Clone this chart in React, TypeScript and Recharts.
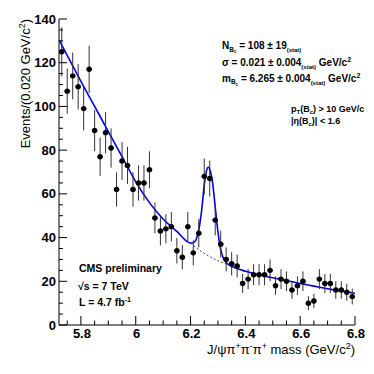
import React from 'react';
import { ComposedChart, XAxis, YAxis, Scatter, Line, ErrorBar } from 'recharts';

// Bin centres (GeV/c^2), bin width 0.020
const binCenters = [
  5.73, 5.75, 5.77, 5.79, 5.81, 5.83, 5.85, 5.87, 5.89, 5.91,
  5.93, 5.95, 5.97, 5.99, 6.01, 6.03, 6.05, 6.07, 6.09, 6.11,
  6.13, 6.15, 6.17, 6.19, 6.21, 6.23, 6.25, 6.27, 6.29, 6.31,
  6.33, 6.35, 6.37, 6.39, 6.41, 6.43, 6.45, 6.47, 6.49, 6.51,
  6.53, 6.55, 6.57, 6.59, 6.61, 6.63, 6.65, 6.67, 6.69, 6.71,
  6.73, 6.75, 6.77, 6.79,
];
// Events per bin
const counts = [
  125, 107, 114, 109, 99, 117, 89, 77, 88, 81,
  62, 75, 73, 62, 65, 65, 71, 49, 43, 44,
  45, 34, 31, 45, 33, 42, 68, 67, 48, 37,
  30, 28, 27, 19, 21, 23, 23, 23, 25, 18,
  21, 20, 16, 18, 20, 10, 11, 21, 19, 19,
  16, 16, 15, 13,
];
const halfBin = 0.01;

// Total fit curve
const fitMass = [
  5.72, 5.8, 5.85, 5.9, 5.95, 6.0, 6.05, 6.1, 6.15, 6.2,
  6.21, 6.22, 6.23, 6.24, 6.25, 6.258, 6.265, 6.272, 6.28, 6.29,
  6.3, 6.31, 6.32, 6.33, 6.34, 6.36, 6.4, 6.45, 6.5, 6.55,
  6.6, 6.65, 6.7, 6.75, 6.8,
];
const fitValue = [
  130.5, 111.5, 100, 88.5, 77, 65.5, 56, 48.5, 42.8, 37.5,
  37.6, 39, 43.5, 52, 64, 70.5, 72.2, 70.5, 65.5, 54,
  42.5, 34.5, 30.5, 28.6, 27.5, 26.3, 24.6, 23, 21.6, 20.3,
  19, 17.8, 16.6, 15.5, 14.5,
];
// Background component under the peak (dashed)
const bkgMass = [6.2, 6.22, 6.24, 6.26, 6.28, 6.3, 6.32, 6.34];
const bkgValue = [37.5, 35.4, 33.6, 32, 30.6, 29.4, 28.4, 27.5];

const xMajorTicks = [5.8, 6, 6.2, 6.4, 6.6, 6.8];
const xMinorTicks = [5.75, 5.85, 5.9, 5.95, 6.05, 6.1, 6.15, 6.25, 6.3, 6.35, 6.45, 6.5, 6.55, 6.65, 6.7, 6.75];
const xTickLabels = ['5.8', '6', '6.2', '6.4', '6.6', '6.8'];
const yMajorTicks = [0, 20, 40, 60, 80, 100, 120, 140];
const yMinorTicks = [5, 10, 15, 25, 30, 35, 45, 50, 55, 65, 70, 75, 85, 90, 95, 105, 110, 115, 125, 130, 135];
const yTickLabels = ['0', '20', '40', '60', '80', '100', '120', '140'];

const points = binCenters.map((x, i) => ({ x, y: counts[i], ey: Math.sqrt(counts[i]), ex: halfBin }));
const fitData = fitMass.map((x, i) => ({ x, y: fitValue[i] }));
const bkgData = bkgMass.map((x, i) => ({ x, y: bkgValue[i] }));

const allX = [...xMajorTicks, ...xMinorTicks].sort((a, b) => a - b);
const allY = [...yMajorTicks, ...yMinorTicks].sort((a, b) => a - b);

const FONT = '"Liberation Sans", Arial, Helvetica, sans-serif';

const majorIndex = (arr: number[], v: number) => arr.findIndex((m) => Math.abs(m - v) < 1e-6);

const BottomTick = (props: any) => {
  const { x, y, payload } = props;
  const mi = majorIndex(xMajorTicks, payload.value);
  const len = mi >= 0 ? 9 : 4.5;
  return (
    <g>
      <line x1={x} x2={x} y1={y} y2={y - len} stroke="#000" strokeWidth={1} />
      {mi >= 0 && (
        <text x={x + 1} y={y + 13} textAnchor="middle" fontSize={13} fontWeight="bold" fontFamily={FONT} fill="#000">
          {xTickLabels[mi]}
        </text>
      )}
    </g>
  );
};
const TopTick = (props: any) => {
  const { x, y, payload } = props;
  const mi = majorIndex(xMajorTicks, payload.value);
  const len = mi >= 0 ? 9 : 4.5;
  return <line x1={x} x2={x} y1={y} y2={y + len} stroke="#000" strokeWidth={1} />;
};
const LeftTick = (props: any) => {
  const { x, y, payload } = props;
  const mi = majorIndex(yMajorTicks, payload.value);
  const len = mi >= 0 ? 8 : 4;
  return (
    <g>
      <line x1={x} x2={x + len} y1={y} y2={y} stroke="#000" strokeWidth={1} />
      {mi >= 0 && (
        <text x={x - 3} y={y + 4.5} textAnchor="end" fontSize={13} fontWeight="bold" fontFamily={FONT} fill="#000">
          {yTickLabels[mi]}
        </text>
      )}
    </g>
  );
};
const RightTick = (props: any) => {
  const { x, y, payload } = props;
  const mi = majorIndex(yMajorTicks, payload.value);
  const len = mi >= 0 ? 8 : 4;
  return <line x1={x} x2={x - len} y1={y} y2={y} stroke="#000" strokeWidth={1} />;
};

const Marker = (props: any) => {
  const { cx, cy } = props;
  if (cx == null || cy == null) return null;
  return <circle cx={cx} cy={cy} r={2.7} fill="#000" />;
};

export default function App() {
  const W = 374;
  const H = 374;
  return (
    <div style={{ position: 'absolute', left: 0, top: 0, width: W, height: H, background: '#fff' }}>
      <ComposedChart width={W} height={H} margin={{ top: 19, right: 19, bottom: 0, left: 0 }}>
        <XAxis
          xAxisId={0}
          dataKey="x"
          type="number"
          domain={[5.72, 6.8]}
          allowDataOverflow
          ticks={allX}
          interval={0}
          tickSize={0}
          tickMargin={0}
          tick={BottomTick}
          axisLine={{ stroke: '#000', strokeWidth: 1 }}
          height={49}
        />
        <XAxis
          xAxisId="top"
          orientation="top"
          dataKey="x"
          type="number"
          domain={[5.72, 6.8]}
          allowDataOverflow
          ticks={allX}
          interval={0}
          tickSize={0}
          tickMargin={0}
          tick={TopTick}
          axisLine={{ stroke: '#000', strokeWidth: 1 }}
          height={0}
        />
        <YAxis
          yAxisId={0}
          type="number"
          domain={[0, 140]}
          allowDataOverflow
          ticks={allY}
          interval={0}
          tickSize={0}
          tickMargin={0}
          tick={LeftTick}
          axisLine={{ stroke: '#000', strokeWidth: 1 }}
          width={59}
        />
        <YAxis
          yAxisId="right"
          orientation="right"
          type="number"
          domain={[0, 140]}
          allowDataOverflow
          ticks={allY}
          interval={0}
          tickSize={0}
          tickMargin={0}
          tick={RightTick}
          axisLine={{ stroke: '#000', strokeWidth: 1 }}
          width={0}
        />
        <Line
          data={bkgData}
          dataKey="y"
          type="monotone"
          dot={false}
          stroke="#444"
          strokeWidth={1}
          strokeDasharray="2 2"
          isAnimationActive={false}
        />
        <Line
          data={fitData}
          dataKey="y"
          type="monotone"
          dot={false}
          stroke="#0000e6"
          strokeWidth={1.6}
          isAnimationActive={false}
        />
        <Scatter data={points} dataKey="y" shape={Marker} isAnimationActive={false}>
          <ErrorBar dataKey="ey" direction="y" width={0} stroke="#333" strokeWidth={1} isAnimationActive={false} />
          <ErrorBar dataKey="ex" direction="x" width={0} stroke="#000" strokeWidth={1.2} isAnimationActive={false} />
        </Scatter>
      </ComposedChart>
      <svg
        width={W}
        height={H}
        style={{ position: 'absolute', left: 0, top: 0, pointerEvents: 'none', whiteSpace: 'pre' }}
        fontFamily={FONT}
      >
        {/* Y axis title */}
        <text transform="translate(30,19) rotate(-90)" textAnchor="end" fontSize={13} fill="#000">
          Events/(0.020 GeV/c<tspan fontSize={9} dy={-5}>2</tspan>
          <tspan fontSize={13} dy={5}>)</tspan>
        </text>
        {/* X axis title */}
        <text x={355} y={354} textAnchor="end" fontSize={13} fill="#000">
          J/ψπ<tspan fontSize={9} dy={-5}>+</tspan>
          <tspan fontSize={13} dy={5}>π</tspan>
          <tspan fontSize={9} dy={-5}>-</tspan>
          <tspan fontSize={13} dy={5}>π</tspan>
          <tspan fontSize={9} dy={-5}>+</tspan>
          <tspan fontSize={13} dy={5}>{' mass  (GeV/c'}</tspan>
          <tspan fontSize={9} dy={-5}>2</tspan>
          <tspan fontSize={13} dy={5}>)</tspan>
        </text>

        {/* Fit results */}
        <g fontWeight="bold" fill="#000">
          <text x={222} y={49} fontSize={10}>
            N<tspan fontSize={6.5} dy={2.5}>B</tspan>
            <tspan fontSize={4.5} dy={1.5}>c</tspan>
            <tspan fontSize={10} dy={-4}>{' = 108 ± 19'}</tspan>
            <tspan fontSize={6} dy={3}>(stat)</tspan>
          </text>
          <text x={222} y={65.5} fontSize={10}>
            {'σ = 0.021 ± 0.004'}
            <tspan fontSize={6} dy={3}>(stat)</tspan>
            <tspan fontSize={10} dy={-3}>{'  GeV/c'}</tspan>
            <tspan fontSize={7} dy={-4}>2</tspan>
          </text>
          <text x={222} y={81.5} fontSize={10}>
            m<tspan fontSize={6.5} dy={2.5}>B</tspan>
            <tspan fontSize={4.5} dy={1.5}>c</tspan>
            <tspan fontSize={10} dy={-4}>{' = 6.265 ± 0.004'}</tspan>
            <tspan fontSize={6} dy={3}>(stat)</tspan>
            <tspan fontSize={10} dy={-3}>{'  GeV/c'}</tspan>
            <tspan fontSize={7} dy={-4}>2</tspan>
          </text>
          <text x={291} y={111.5} fontSize={9}>
            p<tspan fontSize={6} dy={2}>T</tspan>
            <tspan fontSize={9} dy={-2}>(B</tspan>
            <tspan fontSize={6} dy={2}>c</tspan>
            <tspan fontSize={9} dy={-2}>{') > 10 GeV/c'}</tspan>
          </text>
          <text x={291} y={124} fontSize={9}>
            |η(B<tspan fontSize={6} dy={2}>c</tspan>
            <tspan fontSize={9} dy={-2}>{')| < 1.6'}</tspan>
          </text>

          {/* Experiment labels */}
          <text x={79} y={272} fontSize={10.5}>CMS preliminary</text>
          <text x={78} y={290} fontSize={10.5}>{'√s = 7 TeV'}</text>
          <text x={79} y={306} fontSize={10.5}>
            {'L = 4.7 fb'}
            <tspan fontSize={7} dy={-4}>-1</tspan>
          </text>
        </g>
      </svg>
    </div>
  );
}
